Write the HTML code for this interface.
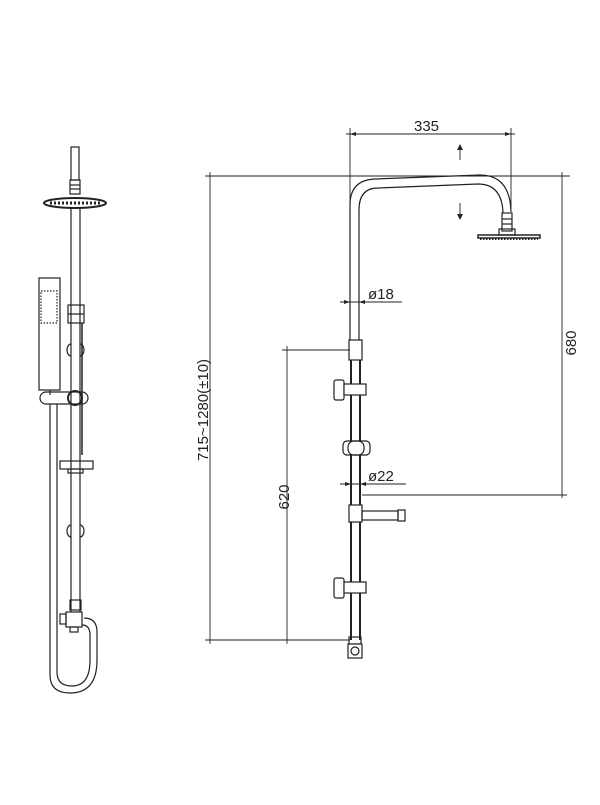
<!DOCTYPE html>
<html><head><meta charset="utf-8"><style>html,body{margin:0;padding:0;background:#fff}</style></head>
<body>
<svg width="600" height="800" viewBox="0 0 600 800" xmlns="http://www.w3.org/2000/svg" font-family="Liberation Sans, sans-serif">
<g fill="none" stroke="#222" stroke-width="1.2">
<!-- LEFT FIGURE -->
<rect x="71" y="147" width="8" height="33"/>
<rect x="70" y="180" width="10" height="14"/>
<line x1="70" y1="185" x2="80" y2="185"/><line x1="70" y1="189" x2="80" y2="189"/>
<ellipse cx="75" cy="203" rx="31" ry="5" stroke-width="2"/>
<path d="M50,203 h50" stroke-dasharray="2 2" stroke-width="3"/>
<line x1="71" y1="208" x2="71" y2="612"/>
<line x1="80" y1="208" x2="80" y2="612"/>
<line x1="82" y1="323" x2="82" y2="455" stroke-width="1.5"/>
<rect x="68" y="305" width="16" height="18"/>
<line x1="68" y1="314" x2="84" y2="314"/>
<path d="M71,344 a4,6 0 0 0 0,12 M80,344 a4,6 0 0 1 0,12"/>
<path d="M71,525 a4,6 0 0 0 0,12 M80,525 a4,6 0 0 1 0,12"/>
<rect x="39" y="278" width="21" height="112"/>
<rect x="41" y="291" width="16" height="32" stroke-dasharray="1.5 1.5"/>
<line x1="50" y1="390" x2="50" y2="395"/>
<path d="M46,392 h36 M46,404 h36 a6,6 0 0 0 0,-12 M46,392 a6,6 0 0 0 0,12"/>
<circle cx="75" cy="398" r="7" stroke-width="2"/>
<rect x="60" y="461" width="33" height="8"/>
<rect x="68" y="469" width="15" height="4"/>
<rect x="70" y="600" width="11" height="10"/>
<rect x="60" y="614" width="6" height="10"/>
<rect x="66" y="612" width="16" height="15"/>
<rect x="70" y="627" width="8" height="5"/>
<path d="M50,404 V675 Q50,693 70,693 Q97,693 97,660 V632 Q97,618 84,618"/>
<path d="M57,404 V672 Q57,686 72,686 Q90,686 90,660 V635 Q90,625 82,625"/>

<!-- RIGHT FIGURE -->
<path d="M350,340 L350,205 Q350,180 375,179 L480,175 Q510,175 511,212"/>
<path d="M359,340 L359,210 Q359,188 378,188 L478,184 Q502,184 503,213"/>
<rect x="502" y="213" width="10" height="18"/>
<line x1="502" y1="219" x2="512" y2="219"/><line x1="502" y1="224" x2="512" y2="224"/>
<rect x="499" y="229" width="16" height="6"/>
<rect x="478" y="235" width="62" height="3" stroke-width="1.5"/>
<path d="M480,239 h58" stroke-dasharray="1.5 1.5" stroke-width="2"/>
<rect x="349" y="340" width="13" height="20"/>
<line x1="351" y1="360" x2="351" y2="640" stroke-width="2"/>
<line x1="360" y1="360" x2="360" y2="640" stroke-width="2"/>
<rect x="334" y="380" width="10" height="20" rx="2" fill="#fff"/>
<rect x="344" y="384" width="22" height="11" fill="#fff"/>
<rect x="343" y="441" width="27" height="14" rx="4" fill="#fff"/>
<rect x="348" y="441" width="16" height="14" rx="6"/>
<rect x="349" y="505" width="13" height="17" fill="#fff"/>
<rect x="362" y="511" width="36" height="9"/>
<rect x="398" y="510" width="7" height="11"/>
<rect x="334" y="578" width="10" height="20" rx="2" fill="#fff"/>
<rect x="344" y="582" width="22" height="11" fill="#fff"/>
<rect x="349" y="637" width="12" height="7"/>
<rect x="348" y="644" width="14" height="14" fill="#fff"/>
<circle cx="355" cy="651" r="4"/>
</g>
<!-- DIMENSIONS -->
<g stroke="#222" stroke-width="0.9" fill="none">
<line x1="350" y1="128" x2="350" y2="205"/>
<line x1="511" y1="128" x2="511" y2="212"/>
<line x1="346" y1="134" x2="515" y2="134"/>
<line x1="205" y1="176" x2="570" y2="176"/>
<line x1="562" y1="172" x2="562" y2="498"/>
<line x1="362" y1="495" x2="567" y2="495"/>
<line x1="210" y1="172" x2="210" y2="644"/>
<line x1="205" y1="640" x2="350" y2="640"/>
<line x1="287" y1="346" x2="287" y2="644"/>
<line x1="282" y1="350" x2="350" y2="350"/>
<line x1="340" y1="302" x2="402" y2="302"/>
<line x1="340" y1="484" x2="406" y2="484"/>
<line x1="460" y1="146" x2="460" y2="160"/>
<line x1="460" y1="203" x2="460" y2="218"/>
</g>
<g fill="#222">
<path d="M460,144 l-3,6 h6z M460,220 l-3,-6 h6z"/>
<path d="M350,134 l6,-2 v4z M511,134 l-6,-2 v4z"/>
<path d="M350,302 l-6,-2 v4z M359,302 l6,-2 v4z"/>
<path d="M351,484 l-6,-2 v4z M360,484 l6,-2 v4z"/>
</g>
<g font-size="15" fill="#222">
<text x="414" y="131">335</text>
<text x="368" y="299">ø18</text>
<text x="368" y="481">ø22</text>
<text transform="translate(576,343) rotate(-90)" text-anchor="middle">680</text>
<text transform="translate(289,497) rotate(-90)" text-anchor="middle">620</text>
<text transform="translate(208,410) rotate(-90)" text-anchor="middle">715~1280(±10)</text>
</g>
</svg>
</body></html>
